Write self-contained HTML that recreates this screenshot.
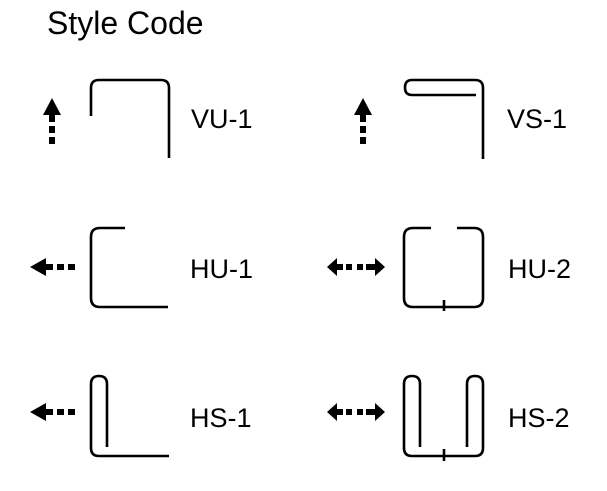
<!DOCTYPE html>
<html><head><meta charset="utf-8"><style>html,body{margin:0;padding:0;background:#fff}svg{display:block}</style></head>
<body>
<svg width="607" height="491" viewBox="0 0 607 491" xmlns="http://www.w3.org/2000/svg" font-family="Liberation Sans, Arial, sans-serif">
<rect width="607" height="491" fill="#fff"/>
<text x="47" y="34" font-size="32">Style Code</text>
<g font-size="27" fill="#000">
<text x="191" y="128">VU-1</text>
<text x="507" y="128">VS-1</text>
<text x="190" y="278">HU-1</text>
<text x="508" y="278">HU-2</text>
<text x="190" y="427">HS-1</text>
<text x="508" y="427">HS-2</text>
</g>
<g fill="none" stroke="#000" stroke-width="2.6">
<path d="M91 116 V88 Q91 80 99 80 H161 Q169 80 169 88 V158"/>
<path d="M476 95 H412 Q405 95 405 87.5 Q405 80 412 80 H475 Q483 80 483 88 V159"/>
<path d="M125 228 H100 Q91 228 91 237 V298 Q91 307 100 307 H168"/>
<path d="M431 228 H413 Q404 228 404 237 V298 Q404 307 413 307 H474 Q483 307 483 298 V237 Q483 228 474 228 H457"/>
<path d="M444 300 V311"/>
<path d="M107 447 V384 Q107 376 99 376 Q91 376 91 384 V448 Q91 456 99 456 H169"/>
<path d="M420 447 V384 Q420 376 412 376 Q404 376 404 384 V448 Q404 456 412 456 H475 Q483 456 483 448 V384 Q483 376 475 376 Q467 376 467 384 V447"/>
<path d="M444 449 V461"/>
</g>
<g fill="#000">
<polygon points="52,98 43,115 61,115"/>
<rect x="49" y="115" width="6" height="7"/><rect x="49" y="126" width="6" height="7"/><rect x="49" y="137" width="6" height="7"/>
<polygon points="363,98 354,115 372,115"/>
<rect x="360" y="115" width="6" height="7"/><rect x="360" y="126" width="6" height="7"/><rect x="360" y="137" width="6" height="7"/>
<polygon points="30,267 46,258 46,276"/>
<rect x="46" y="264" width="7" height="6"/><rect x="57" y="264" width="7" height="6"/><rect x="68" y="264" width="7" height="6"/>
<polygon points="30,412 46,403 46,421"/>
<rect x="46" y="409" width="7" height="6"/><rect x="57" y="409" width="7" height="6"/><rect x="68" y="409" width="7" height="6"/>
<polygon points="327,267 337,258 337,276"/><polygon points="385,267 375,258 375,276"/>
<rect x="337" y="264" width="6" height="6"/><rect x="346" y="264" width="6" height="6"/><rect x="357" y="264" width="6" height="6"/><rect x="366" y="264" width="9" height="6"/>
<polygon points="327,412 337,403 337,421"/><polygon points="385,412 375,403 375,421"/>
<rect x="337" y="409" width="6" height="6"/><rect x="346" y="409" width="6" height="6"/><rect x="357" y="409" width="6" height="6"/><rect x="366" y="409" width="9" height="6"/>
</g>
</svg>
</body></html>
